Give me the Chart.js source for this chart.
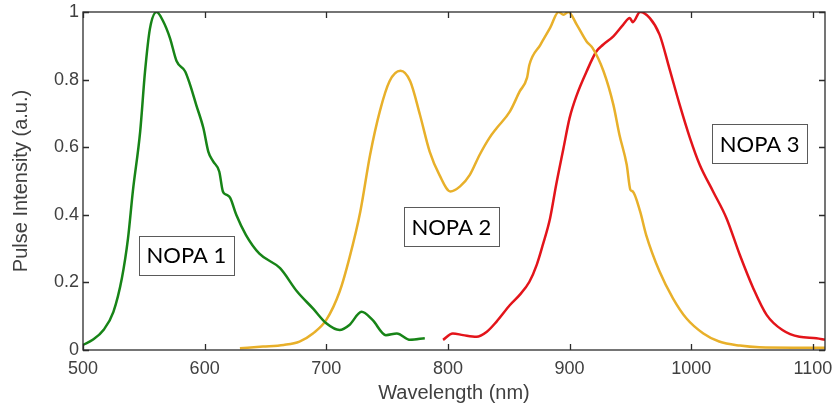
<!DOCTYPE html>
<html>
<head>
<meta charset="utf-8">
<script src="https://cdn.jsdelivr.net/npm/chart.js@4/dist/chart.umd.min.js"></script>
<style>
  html, body { margin: 0; padding: 0; background: #fff; }
  #spectra { display: block; }
</style>
</head>
<body>
<canvas id="spectra" width="836" height="408"></canvas>
<script>
// NOPA 1 (green)
const nopa1Wavelength = [500, 508, 517, 525, 532, 537, 541, 547, 551, 555, 560.5, 566, 571.5, 577, 584, 588, 593, 599, 603, 607, 612, 615, 618, 621, 626, 634, 645, 662, 676, 689, 700, 711, 719, 729, 738, 749, 758, 769, 781];
const nopa1Intensity = [0.015, 0.03, 0.06, 0.113, 0.213, 0.33, 0.47, 0.646, 0.824, 0.95, 1.0, 0.972, 0.923, 0.854, 0.824, 0.785, 0.726, 0.656, 0.587, 0.558, 0.528, 0.469, 0.459, 0.45, 0.40, 0.34, 0.285, 0.242, 0.173, 0.123, 0.079, 0.059, 0.074, 0.113, 0.089, 0.044, 0.049, 0.03, 0.035];

// NOPA 2 (yellow)
const nopa2Wavelength = [629, 648, 665, 678, 689, 700, 711, 719, 728, 736, 744, 752, 761, 769, 777, 785, 793, 802, 810, 818, 826, 834, 840, 851, 859, 865, 867, 876, 884, 891, 895, 899, 906, 914, 919, 928, 936, 941, 947, 950, 952, 958, 963, 974, 985, 996, 1010, 1023, 1040, 1056, 1084, 1110];
const nopa2Intensity = [0.005, 0.01, 0.015, 0.025, 0.049, 0.089, 0.173, 0.272, 0.41, 0.577, 0.706, 0.795, 0.826, 0.795, 0.696, 0.587, 0.518, 0.469, 0.484, 0.518, 0.577, 0.627, 0.656, 0.706, 0.765, 0.805, 0.844, 0.903, 0.953, 1.0, 0.992, 1.0, 0.962, 0.913, 0.893, 0.824, 0.726, 0.637, 0.548, 0.474, 0.469, 0.41, 0.34, 0.232, 0.153, 0.094, 0.049, 0.025, 0.013, 0.008, 0.007, 0.007];

// NOPA 3 (red)
const nopa3Wavelength = [796, 804, 812.5, 823.5, 832, 840, 851, 859, 867, 873, 878, 884, 889, 895, 900, 906, 914, 922, 927.5, 936, 944, 949.5, 952, 958, 966, 974, 982, 990.5, 999, 1007, 1018, 1029, 1040, 1051, 1062, 1075, 1089, 1103, 1110];
const nopa3Intensity = [0.03, 0.049, 0.044, 0.039, 0.054, 0.084, 0.133, 0.163, 0.202, 0.252, 0.311, 0.39, 0.489, 0.597, 0.686, 0.755, 0.824, 0.883, 0.903, 0.928, 0.962, 0.982, 0.97, 1.0, 0.982, 0.933, 0.834, 0.726, 0.627, 0.548, 0.469, 0.39, 0.281, 0.183, 0.104, 0.059, 0.039, 0.035, 0.03];

const seriesNames = ["NOPA 1", "NOPA 2", "NOPA 3"];
const xTicks = [500, 600, 700, 800, 900, 1000, 1100];
const yTicks = [0, 0.2, 0.4, 0.6, 0.8, 1];

// where the boxed labels sit (data coords)
const labelSpots = [
  { text: "NOPA 1", x: 585, y: 0.28 },
  { text: "NOPA 2", x: 802.8, y: 0.364 },
  { text: "NOPA 3", x: 1056.3, y: 0.61 },
];

const axisFont = "'Liberation Sans', Arial, sans-serif";
const textGray = "#404040";

function toPoints(xs, ys) {
  return xs.map((x, i) => ({ x: x, y: ys[i] }));
}

function lineSet(label, xs, ys, color) {
  return {
    label: label,
    data: toPoints(xs, ys),
    borderColor: color,
    backgroundColor: color,
    borderWidth: 2.5,
    pointRadius: 0,
    cubicInterpolationMode: "monotone",
    fill: false,
  };
}

// MATLAB style box with inward ticks
const boxFrame = {
  id: "boxFrame",
  afterDatasetsDraw(chart) {
    const { ctx, chartArea, scales } = chart;
    const { left, right, top, bottom } = chartArea;
    const tickLen = 6;
    ctx.save();
    ctx.strokeStyle = "#2b2b2b";
    ctx.lineWidth = 1.3;
    ctx.beginPath();
    xTicks.forEach((v) => {
      const px = Math.round(scales.x.getPixelForValue(v)) + 0.5;
      ctx.moveTo(px, bottom);
      ctx.lineTo(px, bottom - tickLen);
      ctx.moveTo(px, top);
      ctx.lineTo(px, top + tickLen);
    });
    yTicks.forEach((v) => {
      const py = Math.round(scales.y.getPixelForValue(v)) + 0.5;
      ctx.moveTo(left, py);
      ctx.lineTo(left + tickLen, py);
      ctx.moveTo(right, py);
      ctx.lineTo(right - tickLen, py);
    });
    ctx.stroke();
    ctx.strokeRect(left, top, right - left, bottom - top);
    ctx.restore();
  },
  afterDraw(chart) {
    const { ctx, scales } = chart;
    ctx.save();
    ctx.font = "22px Lato, 'Open Sans', sans-serif";
    ctx.textAlign = "center";
    ctx.textBaseline = "middle";
    labelSpots.forEach((s) => {
      const cx = scales.x.getPixelForValue(s.x);
      const cy = scales.y.getPixelForValue(s.y);
      const w = 95, h = 39;
      ctx.fillStyle = "#fff";
      ctx.fillRect(cx - w / 2, cy - h / 2, w, h);
      ctx.strokeStyle = "#5a5a5a";
      ctx.lineWidth = 1;
      ctx.strokeRect(Math.round(cx - w / 2) + 0.5, Math.round(cy - h / 2) + 0.5, w, h);
      ctx.fillStyle = "#000";
      ctx.fillText(s.text, cx, cy + 1);
    });
    ctx.restore();
  },
};

const ctx = document.getElementById("spectra").getContext("2d");
const chart = new Chart(ctx, {
  type: "line",
  data: {
    datasets: [
      lineSet(seriesNames[0], nopa1Wavelength, nopa1Intensity, "#178417"),
      lineSet(seriesNames[1], nopa2Wavelength, nopa2Intensity, "#e8b02a"),
      lineSet(seriesNames[2], nopa3Wavelength, nopa3Intensity, "#e3141a"),
    ],
  },
  options: {
    responsive: false,
    animation: false,
    layout: { padding: { top: 12, right: 11, left: 0, bottom: 0 } },
    plugins: {
      legend: { display: false },
      tooltip: { enabled: false },
    },
    scales: {
      x: {
        type: "linear",
        min: 500,
        max: 1110,
        grid: { display: false, drawTicks: false },
        border: { display: false },
        afterBuildTicks(scale) {
          scale.ticks = xTicks.map((v) => ({ value: v }));
        },
        afterFit(scale) {
          scale.height = 58;
          scale.paddingLeft = 0;
          scale.paddingRight = 0;
        },
        ticks: {
          padding: 8,
          maxRotation: 0,
          color: textGray,
          font: { family: axisFont, size: 18 },
          callback: (v) => String(v),
        },
        title: {
          display: true,
          text: "Wavelength (nm)",
          color: textGray,
          font: { family: axisFont, size: 20 },
          padding: { top: 0, bottom: 3 },
        },
      },
      y: {
        min: 0,
        max: 1,
        grid: { display: false, drawTicks: false },
        border: { display: false },
        afterBuildTicks(scale) {
          scale.ticks = yTicks.map((v) => ({ value: v }));
        },
        afterFit(scale) {
          scale.width = 83;
          scale.paddingTop = 0;
          scale.paddingBottom = 0;
        },
        ticks: {
          padding: 4,
          color: textGray,
          font: { family: axisFont, size: 18 },
          callback: (v) => String(v),
        },
        title: {
          display: true,
          text: "Pulse Intensity (a.u.)",
          color: textGray,
          font: { family: axisFont, size: 20 },
          padding: { top: 9, bottom: 0 },
        },
      },
    },
  },
  plugins: [boxFrame],
});
</script>
</body>
</html>
